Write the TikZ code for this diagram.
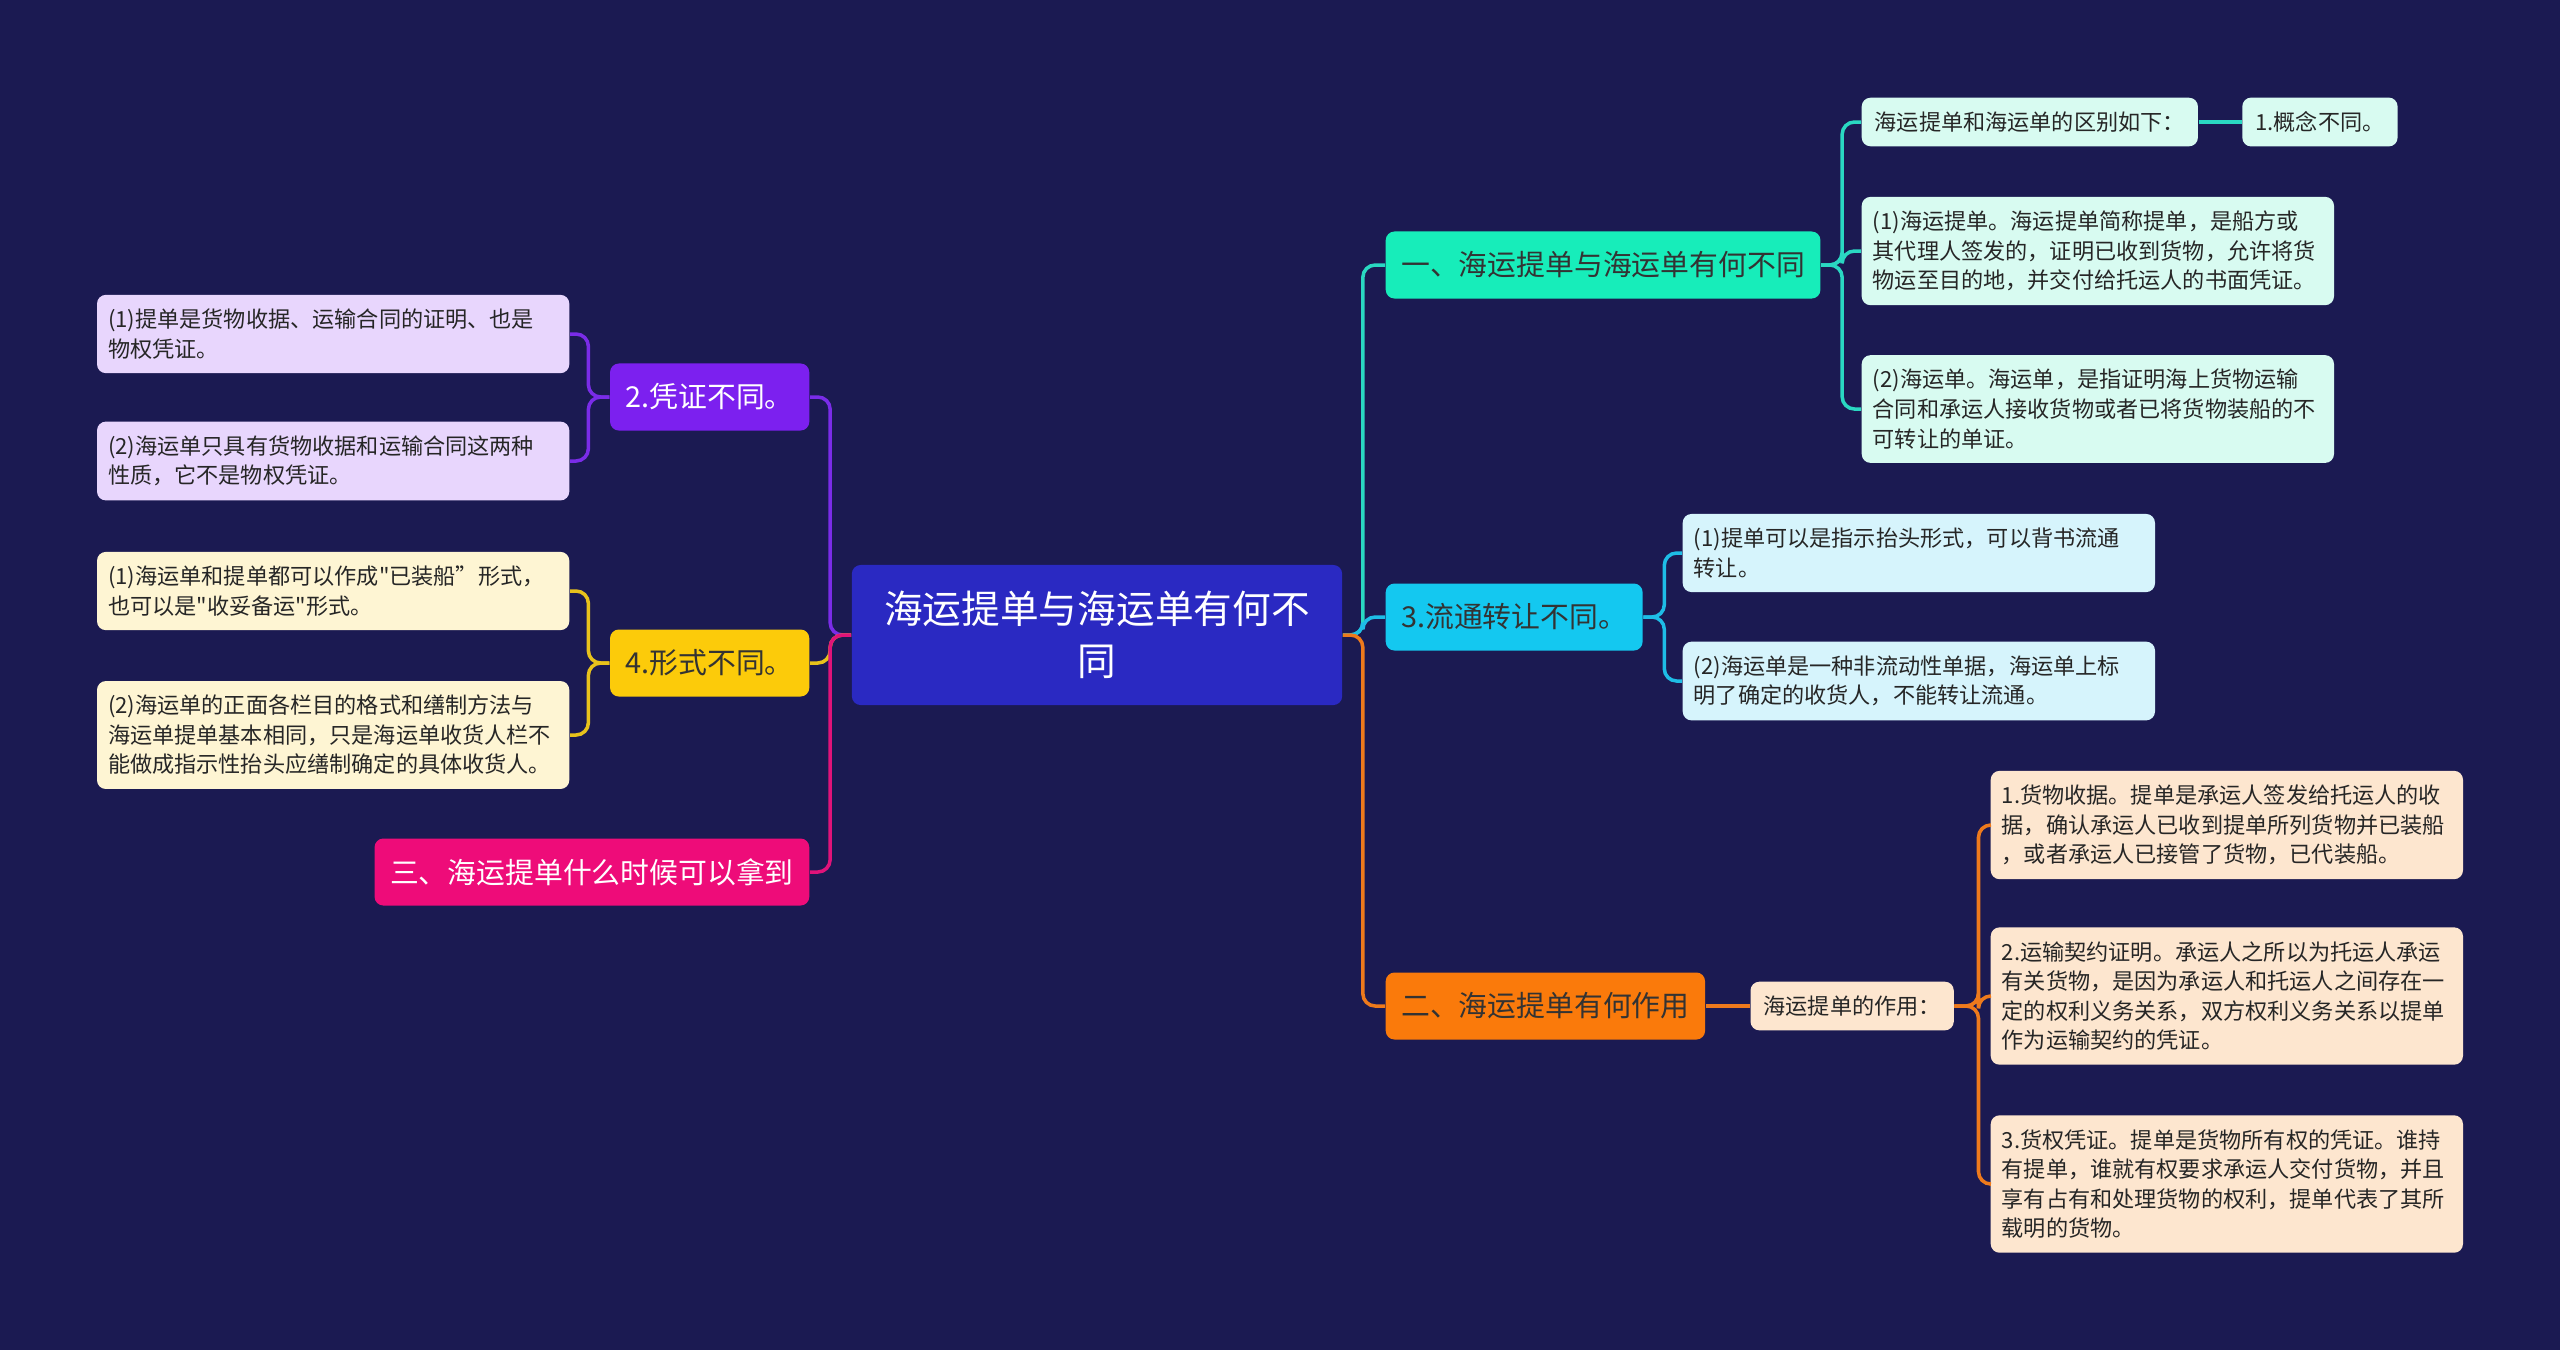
\documentclass[tikz,border=0pt]{standalone}
\usepackage{fontspec}
\setmainfont{Noto Sans CJK SC}[Ligatures=TeXOff]
\usetikzlibrary{positioning}
\definecolor{nightbg}{HTML}{1B1A52}
\definecolor{rootblue}{HTML}{2A29C2}
\definecolor{mintmain}{HTML}{17EDBA}
\definecolor{mintleaf}{HTML}{D8FBF1}
\definecolor{mintline}{HTML}{2AD8C2}
\definecolor{skymain}{HTML}{14C8F0}
\definecolor{skyleaf}{HTML}{D6F4FC}
\definecolor{skyline}{HTML}{1EBDE6}
\definecolor{ambermain}{HTML}{FA7A0B}
\definecolor{amberleaf}{HTML}{FDE6CF}
\definecolor{amberline}{HTML}{EE7A1C}
\definecolor{violetmain}{HTML}{7C20EF}
\definecolor{violetleaf}{HTML}{E8D6FD}
\definecolor{violetline}{HTML}{7A2CE8}
\definecolor{goldmain}{HTML}{FCCB0A}
\definecolor{goldleaf}{HTML}{FEF5D3}
\definecolor{goldline}{HTML}{E8C21C}
\definecolor{rosemain}{HTML}{EE0C79}
\definecolor{roseline}{HTML}{E0137A}
\definecolor{leafink}{HTML}{262626}

\begin{document}
\begin{tikzpicture}[x=0.01cm, y=-0.01cm,
    leaf/.style={rounded corners=2.5pt, text width=4.5cm, inner xsep=0.11cm, inner ysep=4pt, align=left, font=\fontsize{6.3}{8.4}\selectfont, text=leafink},
    tag/.style={rounded corners=2.5pt, inner xsep=0.13cm, inner ysep=0.14cm, font=\fontsize{6.3}{8.4}\selectfont, text=leafink},
    topic/.style={rounded corners=2.5pt, minimum height=0.67cm, inner xsep=0.155cm, font=\fontsize{8.2}{10}\selectfont},
    link/.style={line width=1pt, rounded corners=3.5pt}]
    \fill[nightbg] (0,0) rectangle (2560,1350);

    \node[fill=rootblue, text=white, rounded corners=2.5pt, minimum width=4.9cm, minimum height=1.4cm, align=center, font=\fontsize{11}{14.8}\selectfont] (root) at (1097,635) {海运提单与海运单有何不\\同};

    % right side
    \node[topic, fill=mintmain, text=black!80, anchor=west] (diff) at (1385,265) {一、海运提单与海运单有何不同};
    \node[topic, fill=skymain, text=black!80, anchor=west] (transfer) at (1385,617) {3.流通转让不同。};
    \node[topic, fill=ambermain, text=black!80, anchor=west] (usage) at (1385,1006) {二、海运提单有何作用};

    \node[tag, fill=mintleaf, anchor=west] (difflist) at (1861,122) {海运提单和海运单的区别如下：};
    \node[tag, fill=mintleaf, right=0.43cm of difflist] (concept) {1.概念不同。};
    \node[leaf, fill=mintleaf, anchor=west] (billdef) at (1861,251) {(1)海运提单。海运提单简称提单，是船方或\\其代理人签发的，证明已收到货物，允许将货\\物运至目的地，并交付给托运人的书面凭证。};
    \node[leaf, fill=mintleaf, anchor=west] (waybilldef) at (1861,409) {(2)海运单。海运单，是指证明海上货物运输\\合同和承运人接收货物或者已将货物装船的不\\可转让的单证。};

    \node[leaf, fill=skyleaf, anchor=west] (endorse) at (1682,553) {(1)提单可以是指示抬头形式，可以背书流通\\转让。};
    \node[leaf, fill=skyleaf, anchor=west] (nonneg) at (1682,681) {(2)海运单是一种非流动性单据，海运单上标\\明了确定的收货人，不能转让流通。};

    \node[tag, fill=amberleaf, right=0.44cm of usage] (roles) {海运提单的作用：};
    \node[leaf, fill=amberleaf, anchor=west] (receipt) at (1990,825) {1.货物收据。提单是承运人签发给托运人的收\\据，确认承运人已收到提单所列货物并已装船\\，或者承运人已接管了货物，已代装船。};
    \node[leaf, fill=amberleaf, anchor=west] (contract) at (1990,996) {2.运输契约证明。承运人之所以为托运人承运\\有关货物，是因为承运人和托运人之间存在一\\定的权利义务关系，双方权利义务关系以提单\\作为运输契约的凭证。};
    \node[leaf, fill=amberleaf, anchor=west] (title) at (1990,1184) {3.货权凭证。提单是货物所有权的凭证。谁持\\有提单，谁就有权要求承运人交付货物，并且\\享有占有和处理货物的权利，提单代表了其所\\载明的货物。};

    % left side
    \node[topic, fill=violetmain, text=white, anchor=east] (proof) at (810,397) {2.凭证不同。};
    \node[topic, fill=goldmain, text=black!80, anchor=east] (form) at (810,663) {4.形式不同。};
    \node[topic, fill=rosemain, text=white, anchor=east] (when) at (810,872) {三、海运提单什么时候可以拿到};

    \node[leaf, fill=violetleaf, anchor=east] (proofa) at (570,334) {(1)提单是货物收据、运输合同的证明、也是\\物权凭证。};
    \node[leaf, fill=violetleaf, anchor=east] (proofb) at (570,461) {(2)海运单只具有货物收据和运输合同这两种\\性质，它不是物权凭证。};
    \node[leaf, fill=goldleaf, anchor=east] (forma) at (570,591) {(1)海运单和提单都可以作成"已装船”形式，\\也可以是"收妥备运"形式。};
    \node[leaf, fill=goldleaf, anchor=east] (formb) at (570,735) {(2)海运单的正面各栏目的格式和缮制方法与\\海运单提单基本相同，只是海运单收货人栏不\\能做成指示性抬头应缮制确定的具体收货人。};

    \draw[link, draw=mintline] (root.east) -- ++(20,0) |- (diff.west);
    \draw[link, draw=skyline] (root.east) -- ++(20,0) |- (transfer.west);
    \draw[link, draw=amberline] (root.east) -- ++(20,0) |- (usage.west);
    \draw[link, draw=mintline] (diff.east) -- ++(21,0) |- (difflist.west);
    \draw[link, draw=mintline] (diff.east) -- ++(21,0) |- (billdef.west);
    \draw[link, draw=mintline] (diff.east) -- ++(21,0) |- (waybilldef.west);
    \draw[link, draw=mintline] (difflist) -- (concept);
    \draw[link, draw=skyline] (transfer.east) -- ++(21,0) |- (endorse.west);
    \draw[link, draw=skyline] (transfer.east) -- ++(21,0) |- (nonneg.west);
    \draw[link, draw=amberline] (usage) -- (roles);
    \draw[link, draw=amberline] (roles.east) -- ++(24,0) |- (receipt.west);
    \draw[link, draw=amberline] (roles.east) -- ++(24,0) |- (contract.west);
    \draw[link, draw=amberline] (roles.east) -- ++(24,0) |- (title.west);

    \draw[link, draw=violetline] (root.west) -- ++(-21,0) |- (proof.east);
    \draw[link, draw=goldline] (root.west) -- ++(-21,0) |- (form.east);
    \draw[link, draw=roseline] (root.west) -- ++(-21,0) |- (when.east);
    \draw[link, draw=violetline] (proof.west) -- ++(-21,0) |- (proofa.east);
    \draw[link, draw=violetline] (proof.west) -- ++(-21,0) |- (proofb.east);
    \draw[link, draw=goldline] (form.west) -- ++(-21,0) |- (forma.east);
    \draw[link, draw=goldline] (form.west) -- ++(-21,0) |- (formb.east);
\end{tikzpicture}
\end{document}
